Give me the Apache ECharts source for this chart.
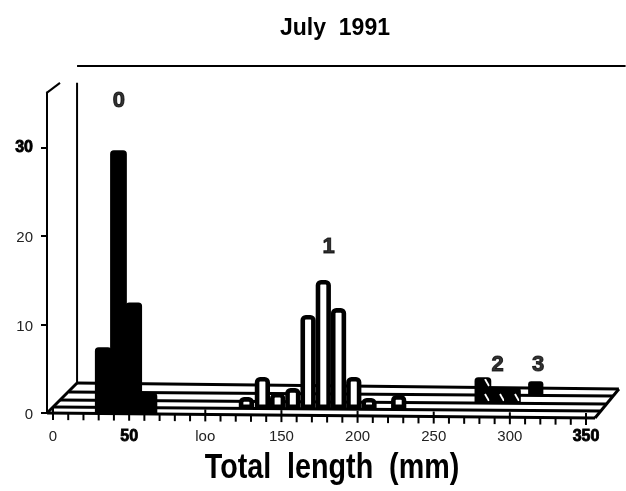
<!DOCTYPE html>
<html>
<head>
<meta charset="utf-8">
<style>html,body{margin:0;padding:0;background:#fff}#c{width:626px;height:491px}</style>
<script src="https://cdn.jsdelivr.net/npm/echarts@6/dist/echarts.min.js"></script>
</head>
<body>
<div id="c"></div>
<script>
// Age-class 0
const age0Lengths = [33, 43, 53, 63];
const age0Tops = [7.35, 29.6, 12.4, 2.2];
// Age-class 1
const age1Lengths = [127, 137.5, 147.5, 157.5, 167.5, 177.5, 187.5, 197.5, 207.5, 227];
const age1Tops = [1.8, 4.07, 2.26, 2.82, 11.07, 15.03, 11.86, 4.07, 1.7, 2.03];
const age1Base = 0.7;
// Age-class 2
const age2Lengths = [282.3, 292.2, 301.7];
const age2Tops = [3.95, 2.82, 2.82];
const age2Base = 1.25;
// Age-class 3
const age3Lengths = [317];
const age3Tops = [3.6];
const age3Base = 2.03;
// Cohort labels
const cohortLabels = [['0', 43.3, 35.3], ['1', 181, 18.8], ['2', 292, 5.4], ['3', 318.5, 5.4]];
// Axis ticks
const xLabels = {0:'0', 50:'{b|50}', 100:'loo', 150:'150', 200:'200', 250:'250', 300:'300', 350:'{b|350}'};
const yTicks = [0, 10, 20, 30];
const xTicks = [0,10,20,30,40,50,60,70,80,90,100,110,120,130,140,150,160,170,180,190,200,210,220,230,240,250,260,270,280,290,300,310,320,330,340,350];
// 3-D frame segments in axis units
const floorLines = [
  [15.8, 3.39, 371.6, 2.71],
  [10.5, 2.37, 367.7, 1.92],
  [4.6, 1.47, 363.1, 1.02],
  [0, 0.68, 359.2, 0.23],
  [-3.9, 0, 355.9, -0.56],
  [-3.9, 0, 15.8, 3.39],
  [355.9, -0.56, 371.6, 2.71]
];
const wallLines = [
  [15.8, 3.39, 15.8, 37.3],
  [-3.9, 36.2, 4.6, 37.3],
  [15.8, 39.2, 376, 39.2]
];
const binWidth = 10;

const hatch = document.createElement('canvas');
hatch.width = 15; hatch.height = 15;
(function () {
  const g = hatch.getContext('2d');
  g.fillStyle = '#000'; g.fillRect(0, 0, 15, 15);
  g.strokeStyle = '#fff'; g.lineWidth = 1.8;
  g.beginPath(); g.moveTo(5, 4); g.lineTo(9, 11); g.stroke();
})();

function toRows(xs, tops, base) { return xs.map((x, i) => [x, base, tops[i]]); }

function barSeries(name, rows, style, inset) {
  return {
    type: 'custom', name, z: 5, data: rows, silent: true,
    encode: { x: 0, y: 2 },
    renderItem(p, api) {
      const a = api.coord([api.value(0) - binWidth / 2, api.value(2)]);
      const b = api.coord([api.value(0) + binWidth / 2, api.value(1)]);
      return {
        type: 'rect',
        shape: { x: a[0] + inset, y: a[1] + inset, width: b[0] - a[0] - 2 * inset, height: b[1] - a[1] - inset, r: [3, 3, 0, 0] },
        style
      };
    }
  };
}

function segSeries(name, rows, w, z) {
  return {
    type: 'custom', name, z, data: rows, silent: true, clip: false,
    encode: { x: [0, 2], y: [1, 3] },
    renderItem(p, api) {
      const a = api.coord([api.value(0), api.value(1)]);
      const b = api.coord([api.value(2), api.value(3)]);
      return { type: 'line', shape: { x1: a[0], y1: a[1], x2: b[0], y2: b[1] }, style: { stroke: '#000', lineWidth: w } };
    }
  };
}

const boldNum = { fontFamily: 'Liberation Sans', fontWeight: 'bold', fontSize: 16, color: '#000', textBorderColor: '#000', textBorderWidth: 0.8 };

const chart = echarts.init(document.getElementById('c'), null, { renderer: 'canvas' });
chart.setOption({
  animation: false,
  backgroundColor: '#fff',
  title: {
    text: 'July  1991', left: 330, top: 12, textAlign: 'center',
    textStyle: { fontFamily: 'Liberation Sans', fontWeight: 'bold', fontSize: 23, color: '#000' }
  },
  graphic: [{
    type: 'text', x: 332, y: 468, scaleY: 1.25, silent: true,
    style: {
      text: 'Total  length  (mm)', align: 'center', verticalAlign: 'middle',
      fontFamily: 'Liberation Sans', fontWeight: 'bold', fontSize: 28.7, fill: '#000'
    }
  }],
  grid: { left: 53, width: 533, top: 92.6, bottom: 78, containLabel: false, outerBoundsMode: 'none' },
  xAxis: {
    type: 'value', min: 0, max: 350, interval: 50,
    splitLine: { show: false }, axisLine: { show: false }, axisTick: { show: false },
    axisLabel: {
      margin: 16, color: '#222', fontFamily: 'Liberation Sans', fontSize: 15,
      formatter: v => xLabels[v],
      rich: { b: boldNum }
    }
  },
  yAxis: {
    type: 'value', min: 0, max: 36.2, interval: 10, offset: 6,
    splitLine: { show: false },
    axisLine: { show: true, onZero: false, lineStyle: { color: '#000', width: 2 } },
    axisTick: { show: true, length: 6, customValues: yTicks, lineStyle: { color: '#000', width: 2 } },
    axisLabel: {
      margin: 14, color: '#222', fontFamily: 'Liberation Sans', fontSize: 15,
      customValues: yTicks,
      formatter: v => v === 30 ? '{b|30}' : '{n|' + v + '}',
      rich: { b: boldNum, n: { fontFamily: 'Liberation Sans', fontSize: 15, color: '#222', padding: [4, 0, 0, 0] } }
    }
  },
  series: [
    segSeries('floor', floorLines, 3, 1),
    segSeries('walls', wallLines, 2, 1),
    {
      type: 'custom', name: 'ticks', z: 2, data: xTicks.map(v => [v]), silent: true, clip: false,
      encode: { x: 0 },
      renderItem(p, api) {
        const v = api.value(0);
        const c = api.coord([v, -0.0016 * v]);
        const major = v % 50 === 0;
        return { type: 'line', shape: { x1: c[0], y1: c[1] - (major ? 5 : 0), x2: c[0], y2: c[1] + 7 }, style: { stroke: '#000', lineWidth: 2 } };
      }
    },
    barSeries('age0', toRows(age0Lengths, age0Tops, 0), { fill: '#000', stroke: '#000', lineWidth: 1.5 }, 0),
    barSeries('age1', toRows(age1Lengths, age1Tops, age1Base), { fill: '#fff', stroke: '#000', lineWidth: 4.6 }, 2.3),
    barSeries('age2', toRows(age2Lengths, age2Tops, age2Base), { fill: { image: hatch, repeat: 'repeat' }, stroke: '#000', lineWidth: 1.5 }, 0),
    barSeries('age3', toRows(age3Lengths, age3Tops, age3Base), { fill: '#000' }, 0),
    {
      type: 'scatter', name: 'cohort labels', symbolSize: 0, z: 6, silent: true, clip: false,
      data: cohortLabels.map(d => ({ value: [d[1], d[2]], name: d[0] })),
      label: {
        show: true, position: 'inside', formatter: '{b}', color: '#000',
        fontFamily: 'Liberation Sans', fontWeight: 'bold', fontSize: 22,
        textBorderColor: '#000', textBorderWidth: 1
      }
    }
  ]
});
</script>
</body>
</html>
